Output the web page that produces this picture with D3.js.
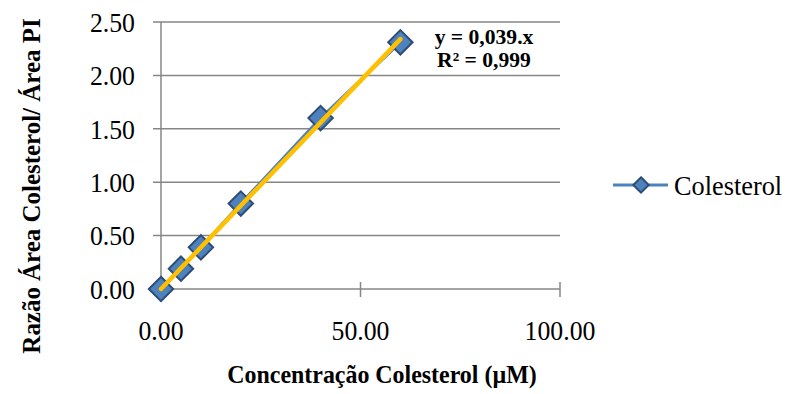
<!DOCTYPE html>
<html>
<head>
<meta charset="utf-8">
<script src="https://cdn.jsdelivr.net/npm/d3@7"></script>
<style>
    body { margin: 0; background: #fff; }
    text { font-family: "Liberation Serif", "Times New Roman", serif; fill: #000; }
    .tick-label { font-size: 28px; }
    .axis-title { font-size: 26px; font-weight: bold; }
    .trend-label { font-size: 21px; font-weight: bold; }
    .legend-label { font-size: 28px; }
</style>
</head>
<body>
<div id="chart"></div>
<script>
// data
let concentration = [0, 5, 10, 20, 40, 60];
let ratio = [0, 0.19, 0.39, 0.80, 1.60, 2.31];
let xTicks = [0, 50, 100];
let yTicks = [0, 0.5, 1.0, 1.5, 2.0, 2.5];
let slope = 0.039;
let seriesName = "Colesterol";
let trendText = ["y = 0,039.x", "R² = 0,999"];

let margin = {top: 22, right: 227, bottom: 105, left: 161};
let width = 787 - margin.left - margin.right;
let height = 394 - margin.top - margin.bottom;

// the original text is a little narrower than the font, squeeze it sideways
function place(px, py, sx, rot) {
    return "translate(" + px + "," + py + ")" + (rot ? " rotate(" + rot + ")" : "") + " scale(" + sx + ",1)";
}

let svg = d3.select("#chart").append("svg")
    .attr("width", 787)
    .attr("height", 394);

let g = svg.append("g")
    .attr("transform", "translate(" + margin.left + "," + margin.top + ")");

let x = d3.scaleLinear().domain([0, 100]).range([0, width]);
let y = d3.scaleLinear().domain([0, 2.5]).range([height, 0]);

// horizontal gridlines
g.selectAll(".grid")
    .data(yTicks)
    .enter().append("line")
    .attr("class", "grid")
    .attr("x1", -8)
    .attr("x2", width)
    .attr("y1", d => y(d))
    .attr("y2", d => y(d))
    .attr("stroke", "#868686")
    .attr("stroke-width", 1.5);

// y axis line
g.append("line")
    .attr("x1", 0).attr("x2", 0)
    .attr("y1", 0).attr("y2", height)
    .attr("stroke", "#868686")
    .attr("stroke-width", 1.5);

// x tick marks (cross)
g.selectAll(".xtick")
    .data(xTicks.filter(d => d > 0))
    .enter().append("line")
    .attr("x1", d => x(d)).attr("x2", d => x(d))
    .attr("y1", height - 7).attr("y2", height + 8)
    .attr("stroke", "#868686")
    .attr("stroke-width", 1.5);

// tick labels
g.selectAll(".ylabel")
    .data(yTicks)
    .enter().append("text")
    .attr("class", "tick-label")
    .attr("transform", d => place(-26, y(d), 0.92))
    .attr("dy", "0.35em")
    .attr("text-anchor", "end")
    .text(d => d.toFixed(2));

g.selectAll(".xlabel")
    .data(xTicks)
    .enter().append("text")
    .attr("class", "tick-label")
    .attr("transform", d => place(x(d), height + 51, 0.92))
    .attr("text-anchor", "middle")
    .text(d => d.toFixed(2));

// series line
let points = concentration.map((c, i) => ({x: c, y: ratio[i]}));
let line = d3.line().x(d => x(d.x)).y(d => y(d.y));

g.append("path")
    .datum(points)
    .attr("fill", "none")
    .attr("stroke", "#4f81bd")
    .attr("stroke-width", 3)
    .attr("d", line);

// markers
let diamond = d3.symbol().type(d3.symbolDiamond2);
g.selectAll(".marker")
    .data(points)
    .enter().append("path")
    .attr("transform", d => "translate(" + x(d.x) + "," + y(d.y) + ")")
    .attr("d", diamond.size(380))
    .attr("fill", "#4f81bd")
    .attr("stroke", "#2c4d75")
    .attr("stroke-width", 2);

// linear trendline through origin
let xMax = d3.max(concentration);
g.append("line")
    .attr("x1", x(0)).attr("y1", y(0))
    .attr("x2", x(xMax)).attr("y2", y(slope * xMax))
    .attr("stroke", "#ffc000")
    .attr("stroke-width", 4.5)
    .attr("stroke-linecap", "round");

// trend equation
g.selectAll(".trend")
    .data(trendText)
    .enter().append("text")
    .attr("class", "trend-label")
    .attr("transform", (d, i) => place(484 - margin.left, 44 - margin.top + i * 23, 1.03))
    .attr("text-anchor", "middle")
    .text(d => d);

// axis titles
svg.append("text")
    .attr("class", "axis-title")
    .attr("transform", place(382, 383, 0.92))
    .attr("text-anchor", "middle")
    .text("Concentração Colesterol (µM)");

svg.append("text")
    .attr("class", "axis-title")
    .attr("transform", place(40, 186, 0.96, -90))
    .attr("text-anchor", "middle")
    .text("Razão Área Colesterol/ Área PI");

// legend
let legend = svg.append("g").attr("transform", "translate(613,185)");
legend.append("line")
    .attr("x1", 0).attr("x2", 55)
    .attr("stroke", "#4f81bd")
    .attr("stroke-width", 3);
legend.append("path")
    .attr("transform", "translate(28,0)")
    .attr("d", diamond.size(150))
    .attr("fill", "#4f81bd")
    .attr("stroke", "#2c4d75")
    .attr("stroke-width", 2);
legend.append("text")
    .attr("class", "legend-label")
    .attr("transform", place(61, 10, 0.94))
    .text(seriesName);
</script>
</body>
</html>
